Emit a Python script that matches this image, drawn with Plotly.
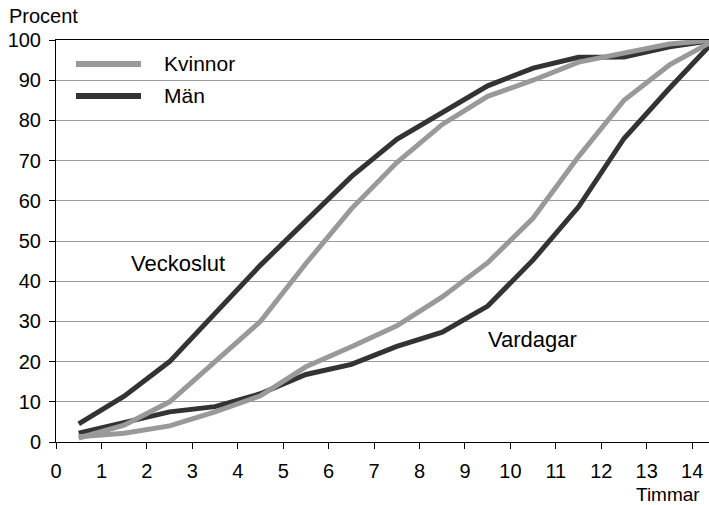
import plotly.graph_objects as go

# ---- data ----
hours = [0.5, 1.5, 2.5, 3.5, 4.5, 5.5, 6.5, 7.5, 8.5, 9.5, 10.5, 11.5, 12.5, 13.5, 14.5]
veckoslut_man = [4.5, 11.4, 20, 32, 44, 55, 66, 75.3, 82, 88.6, 93, 95.7, 95.8, 98.3, 100]
veckoslut_kvinnor = [1, 4.2, 10, 20, 30, 44.4, 58, 69.5, 79, 86, 90, 94.5, 96.8, 99, 100]
vardagar_man = [2.2, 5, 7.5, 8.8, 12, 16.8, 19.3, 23.8, 27.3, 33.8, 45.3, 58.5, 75.5, 88, 100]
vardagar_kvinnor = [1.3, 2.2, 4, 7.5, 11.5, 18.7, 23.7, 28.9, 36.1, 44.6, 55.7, 71, 85, 93.8, 100]

x_ticks = list(range(0, 15))
y_ticks = list(range(0, 101, 10))

GRAY = "#999999"
DARK = "#333333"
FONT = "Liberation Sans, Arial, sans-serif"

fig = go.Figure()
for y, c in [(veckoslut_man, DARK), (vardagar_man, DARK),
             (veckoslut_kvinnor, GRAY), (vardagar_kvinnor, GRAY)]:
    fig.add_trace(go.Scatter(x=hours, y=y, mode="lines",
                             line=dict(color=c, width=5), showlegend=False,
                             hoverinfo="skip"))

fig.update_layout(
    width=709, height=505,
    margin=dict(l=56, r=0, t=40, b=63),
    paper_bgcolor="white", plot_bgcolor="white",
    font=dict(family=FONT, size=20, color="black"),
    showlegend=False,
)
fig.update_xaxes(range=[0, 14.37], tickvals=x_ticks, ticktext=[str(v) for v in x_ticks],
                 showgrid=False, zeroline=False, showline=True, linecolor="black",
                 linewidth=1, mirror=True, ticks="outside", ticklen=6, tickcolor="black",
                 ticklabelstandoff=5, tickfont=dict(size=20))
fig.update_yaxes(range=[0, 100], tickvals=y_ticks, showgrid=True, gridcolor=GRAY,
                 gridwidth=1, zeroline=False, showline=True, linecolor="black",
                 linewidth=1, ticks="outside", ticklen=6, tickcolor="black",
                 ticklabelstandoff=4, tickfont=dict(size=20))

# legend drawn manually (window pixel -> paper coords)
def px_x(p):
    return (p - 56) / 653
def px_y(p):
    return (442 - p) / 402

for yy, c, name in [(64, GRAY, "Kvinnor"), (96, DARK, "Män")]:
    fig.add_shape(type="line", xref="paper", yref="paper",
                  x0=px_x(76), x1=px_x(141), y0=px_y(yy), y1=px_y(yy),
                  line=dict(color=c, width=6))
    fig.add_annotation(xref="paper", yref="paper", x=px_x(162), y=px_y(yy - 1),
                       text=name, showarrow=False, xanchor="left", yanchor="middle",
                       font=dict(size=21))

fig.add_annotation(x=2.69, y=44.5, text="Veckoslut", showarrow=False,
                   xanchor="center", yanchor="middle", font=dict(size=22))
fig.add_annotation(x=10.48, y=25.6, text="Vardagar", showarrow=False,
                   xanchor="center", yanchor="middle", font=dict(size=22))
fig.add_annotation(xref="paper", yref="paper", x=px_x(7), y=px_y(16),
                   text="Procent", showarrow=False, xanchor="left", yanchor="middle",
                   font=dict(size=20))
fig.add_annotation(xref="paper", yref="paper", x=px_x(702), y=px_y(494),
                   text="Timmar", showarrow=False, xanchor="right", yanchor="middle",
                   font=dict(size=19))

fig.write_html(
    "out.html",
    config={"displayModeBar": False, "staticPlot": True},
    post_script="document.body.style.margin='0';document.body.style.overflow='hidden';",
)
